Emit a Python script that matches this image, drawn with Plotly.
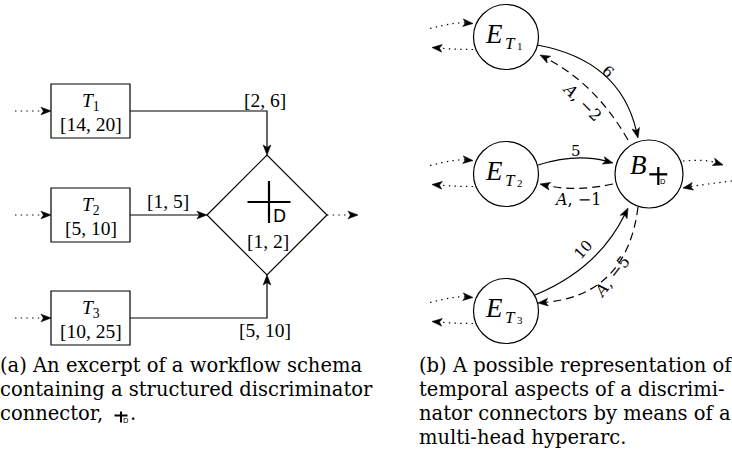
import math
import plotly.graph_objects as go

# ---------------- data (labels / values) ----------------
task_ids = ["1", "2", "3"]
task_windows = ["[14, 20]", "[5, 10]", "[10, 25]"]
flow_windows = ["[2, 6]", "[1, 5]", "[5, 10]"]
connector_window = "[1, 2]"
event_ids = ["1", "2", "3"]
forward_weights = ["6", "5", "10"]
backward_labels = ["<i>A</i>, \u22122", "<i>A</i>, \u22121", "<i>A</i>, \u22125"]
caption_a = ["(a) An excerpt of a workflow schema",
             "containing a structured discriminator",
             "connector,"]
caption_b = ["(b) A possible representation of",
             "temporal aspects of a discrimi-",
             "nator connectors by means of a",
             "multi-head hyperarc."]

# ---------------- style ----------------
MATH = "Liberation Serif"
TEXT = "DejaVu Serif"
SANS = "DejaVu Sans"
INK = "black"
LW = 1.2
DOT = "1.4px,4.3px"
DASH = "8px,5px"
AL, AW = 10, 3.8   # arrow length, half width
CAP = 19.5

shapes = []
annots = []


def path(d, dash="solid", width=LW):
    shapes.append(dict(type="path", path=d, xref="x", yref="y",
                       line=dict(color=INK, width=width, dash=dash)))


def seg(x0, y0, x1, y1, width=LW):
    shapes.append(dict(type="line", x0=x0, y0=y0, x1=x1, y1=y1, xref="x", yref="y",
                       line=dict(color=INK, width=width)))


def arrowhead(tip, frm):
    tx, ty = tip
    dx, dy = tx - frm[0], ty - frm[1]
    n = math.hypot(dx, dy)
    dx, dy = dx / n, dy / n
    bx, by = tx - AL * dx, ty - AL * dy
    px, py = -dy, dx
    mx, my = tx - 0.75 * AL * dx, ty - 0.75 * AL * dy
    d = (f"M {tx},{ty} L {bx + AW * px},{by + AW * py} "
         f"L {mx},{my} L {bx - AW * px},{by - AW * py} Z")
    shapes.append(dict(type="path", path=d, xref="x", yref="y", fillcolor=INK,
                       line=dict(color=INK, width=0.6)))
    return (tx - 0.7 * AL * dx, ty - 0.7 * AL * dy)


def curve_arrow(start, ctrl, tip, dash="solid"):
    base = arrowhead(tip, ctrl)
    path(f"M {start[0]},{start[1]} Q {ctrl[0]},{ctrl[1]} {base[0]},{base[1]}", dash=dash)


def poly_arrow(points, dash="solid"):
    base = arrowhead(points[-1], points[-2])
    pts = points[:-1] + [base]
    d = "M " + " L ".join(f"{x},{y}" for x, y in pts)
    path(d, dash=dash)


def text(x, y, s, size, family=MATH, angle=0, xanchor="center"):
    annots.append(dict(x=x, y=y, xref="x", yref="y", text=s, showarrow=False,
                       font=dict(family=family, size=size, color=INK),
                       textangle=angle, xanchor=xanchor, yanchor="middle",
                       borderpad=0, borderwidth=0))


def circle(cx, cy, r):
    shapes.append(dict(type="circle", x0=cx - r, y0=cy - r, x1=cx + r, y1=cy + r,
                       xref="x", yref="y", line=dict(color=INK, width=LW)))


def discriminator_cross(cx, cy, half_w, up, down, dx_d, dy_d, dsize, width):
    seg(cx - half_w, cy, cx + half_w, cy, width)
    seg(cx, cy - up, cx, cy + down, width)
    text(cx + dx_d, cy + dy_d, "D", dsize, family=SANS)


# ---------------- panel (a) ----------------
BX0, BX1, BHH = 51, 130, 27
BOX_CY = [111, 215, 318]
DCX, DCY, DHW, DHH = 267, 215, 60, 60
BMID = (BX0 + BX1) / 2

for i, cy in enumerate(BOX_CY):
    shapes.append(dict(type="rect", x0=BX0, y0=cy - BHH, x1=BX1, y1=cy + BHH,
                       xref="x", yref="y", line=dict(color=INK, width=LW)))
    text(BMID, cy - 9, f"<i>T</i><sub>{task_ids[i]}</sub>", 19.5)
    text(BMID, cy + 13, task_windows[i], 19.5)
    poly_arrow([(15, cy), (BX0, cy)], dash=DOT)

# diamond
path(f"M {DCX - DHW},{DCY} L {DCX},{DCY - DHH} L {DCX + DHW},{DCY} L {DCX},{DCY + DHH} Z")
poly_arrow([(DCX + DHW, DCY), (358, DCY)], dash=DOT)

# flows into diamond
poly_arrow([(BX1, BOX_CY[0]), (DCX, BOX_CY[0]), (DCX, DCY - DHH)])
poly_arrow([(BX1, BOX_CY[1]), (DCX - DHW, DCY)])
poly_arrow([(BX1, BOX_CY[2]), (DCX, BOX_CY[2]), (DCX, DCY + DHH)])

flow_label_pos = [(265, 100), (168, 201.5), (265, 330)]
for (x, y), lab in zip(flow_label_pos, flow_windows):
    text(x, y, lab, 19.5)

discriminator_cross(269, 202, 21.5, 21, 21, 10, 13.5, 17, 2.2)
text(268, 241.5, connector_window, 19.5)

# ---------------- panel (b) ----------------
ECX, ER = 506, 32.5
E_CY = [37, 174, 311]
BCX, BCY, BR = 649, 174, 34

for i, cy in enumerate(E_CY):
    circle(ECX, cy, ER)
    text(ECX - 12, cy - 3.5, "<i>E</i>", 27)
    text(ECX + 4, cy + 6, "<i>T</i>", 17)
    text(ECX + 14, cy + 9, event_ids[i], 11)
    # dotted in / out loops
    curve_arrow((ECX - 76, cy - 8.5), (ECX - 51, cy - 15), (ECX - 33, cy - 13.5), dash=DOT)
    curve_arrow((ECX - 33, cy + 12.5), (ECX - 50, cy + 12.5), (ECX - 74, cy + 10.5), dash=DOT)

circle(BCX, BCY, BR)
text(BCX - 10.5, BCY - 9, "<i>B</i>", 27)
discriminator_cross(BCX + 9.3, BCY + 0.3, 9, 7.3, 10.7, 4.2, 7.2, 7, 2.3)
curve_arrow((683, 161), (705, 159), (723, 165), dash=DOT)
curve_arrow((732, 181), (706, 184), (683, 188), dash=DOT)

forward_edges = [((537, 45), (620, 60), (638, 138)),
                 ((538, 165), (576, 153), (613, 163)),
                 ((535, 295), (598, 269), (628, 208))]
backward_edges = [((628, 140), (596, 84), (540, 55)),
                  ((613, 184), (576, 192), (540, 184)),
                  ((638, 207), (627, 295), (538, 303))]
forward_label_pos = [(608, 72, 42), (576, 150.5, 0), (583, 250, -48)]
backward_label_pos = [(582, 101, 45), (577, 199, 0), (611, 277, -52)]

for (s, c, t), (lx, ly, la), lab in zip(forward_edges, forward_label_pos, forward_weights):
    curve_arrow(s, c, t)
    text(lx, ly, lab, 15, family=TEXT, angle=la)
for (s, c, t), (lx, ly, la), lab in zip(backward_edges, backward_label_pos, backward_labels):
    curve_arrow(s, c, t, dash=DASH)
    text(lx, ly, lab, 16, family=TEXT, angle=la)

# ---------------- captions ----------------
CAP_Y = [365, 389, 413, 437]
for i, line in enumerate(caption_a):
    text(0, CAP_Y[i], line, CAP, family=TEXT, xanchor="left")
for i, line in enumerate(caption_b):
    text(419, CAP_Y[i], line, CAP, family=TEXT, xanchor="left")
discriminator_cross(121, 415.5, 6.5, 4, 7, 4, 5, 7, 2.0)
text(132.5, CAP_Y[2], ".", CAP, family=TEXT)

# ---------------- figure ----------------
fig = go.Figure(go.Scatter(x=[0], y=[0], mode="markers", marker=dict(opacity=0),
                           hoverinfo="skip", showlegend=False))
fig.update_layout(width=732, height=456, autosize=False,
                  margin=dict(l=0, r=0, t=0, b=0),
                  paper_bgcolor="white", plot_bgcolor="white",
                  xaxis=dict(range=[0, 732], visible=False, fixedrange=True),
                  yaxis=dict(range=[456, 0], visible=False, fixedrange=True),
                  showlegend=False, shapes=shapes, annotations=annots)
fig.write_html("out.html", config={"displayModeBar": False},
               post_script="document.body.style.margin='0';"
                           "document.body.style.overflow='hidden';")
